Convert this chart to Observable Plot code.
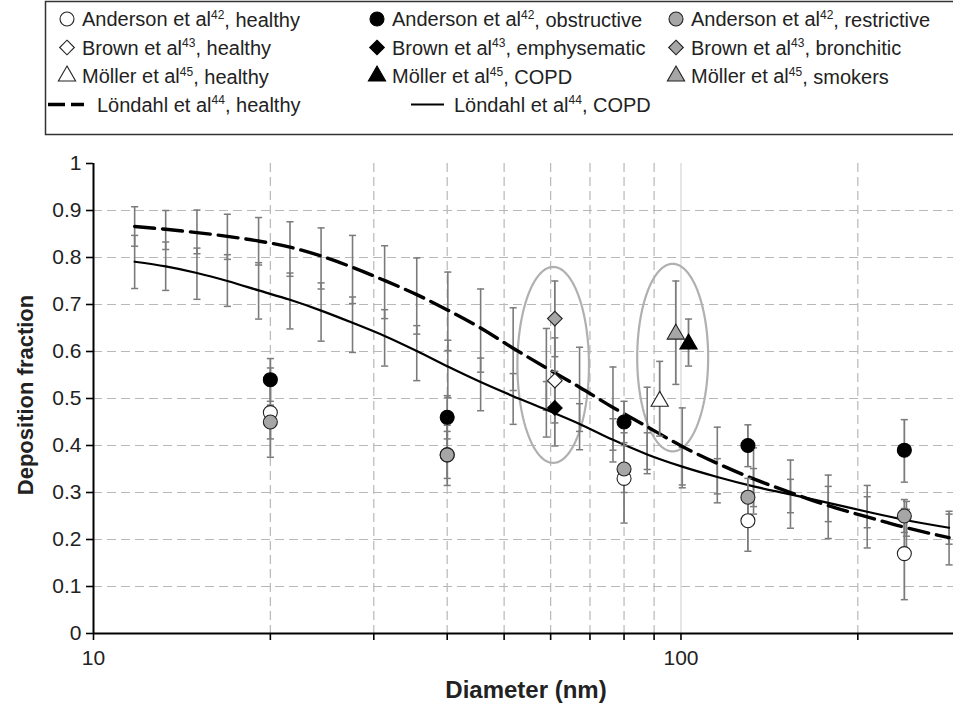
<!DOCTYPE html>
<html><head><meta charset="utf-8">
<script src="https://cdn.jsdelivr.net/npm/d3@7"></script>
<script src="https://cdn.jsdelivr.net/npm/@observablehq/plot@0.6"></script>
<style>
body{margin:0;background:#fff;overflow:hidden;font-family:"Liberation Sans",Arial,sans-serif;}
#wrap{position:relative;width:953px;height:706px;overflow:hidden;background:#fff;}
#legend{position:absolute;left:0;top:0;}
#chart{position:absolute;left:0;top:150px;}
</style></head><body>
<div id="wrap"><svg id="legend" width="953" height="150"></svg><div id="chart"></div></div>
<script>
// ---------- data ----------
const xTicks = [10,20,30,40,50,60,70,80,90,100,200];
const xTickLabels = [10,100];
const yTicks = [0,0.1,0.2,0.3,0.4,0.5,0.6,0.7,0.8,0.9,1];
const xGridDashed = [20,30,40,50,60,70,80,90,200];
const xGridSolid = [100];
const yGrid = [0.1,0.2,0.3,0.4,0.5,0.6,0.7,0.8,0.9];

// Löndahl et al (44)
const londahlD = [11.75,13.27,15.0,16.9,19.1,21.6,24.4,27.6,31.3,35.5,40.1,45.6,51.8,59.0,67.2,76.6,87.6,100.5,115.3,132.9,153.6,178.1,207.5,242,286];
const londahlHealthy   = [0.866,0.860,0.853,0.845,0.835,0.822,0.803,0.779,0.751,0.721,0.688,0.650,0.607,0.565,0.524,0.481,0.440,0.398,0.362,0.329,0.300,0.272,0.248,0.225,0.204];
const londahlHealthyLo = [0.824,0.817,0.808,0.796,0.784,0.760,0.733,0.702,0.670,0.637,0.602,0.556,0.517,0.475,0.430,0.390,0.349,0.310,0.297,0.270,0.257,0.202,0.182,0.170,0.146];
const londahlHealthyHi = [0.908,0.900,0.901,0.892,0.885,0.876,0.863,0.847,0.825,0.799,0.769,0.733,0.693,0.649,0.609,0.567,0.524,0.480,0.439,0.395,0.369,0.313,0.291,0.264,0.254];
const londahlCopd      = [0.791,0.781,0.767,0.750,0.730,0.710,0.687,0.661,0.633,0.601,0.568,0.535,0.505,0.476,0.446,0.412,0.381,0.355,0.333,0.313,0.296,0.278,0.259,0.241,0.225];
const londahlCopdLo    = [0.734,0.730,0.711,0.696,0.669,0.648,0.622,0.598,0.569,0.538,0.502,0.474,0.445,0.418,0.391,0.365,0.340,0.316,0.278,0.254,0.224,0.238,0.225,0.207,0.190];
const londahlCopdHi    = [0.847,0.833,0.820,0.806,0.789,0.767,0.746,0.716,0.689,0.655,0.624,0.586,0.553,0.536,0.489,0.457,0.427,0.396,0.372,0.351,0.328,0.337,0.315,0.281,0.260];

// Anderson et al (42)
const andersonD = [20,40,80,130,240];
const andersonHealthy     = [0.47,0.38,0.33,0.24,0.17];
const andersonHealthyLo   = [0.375,0.330,0.235,0.175,0.072];
const andersonHealthyHi   = [0.565,0.430,0.427,0.303,0.266];
const andersonObstr       = [0.54,0.46,0.45,0.40,0.39];
const andersonObstrLo     = [0.494,0.414,0.406,0.355,0.322];
const andersonObstrHi     = [0.585,0.506,0.494,0.444,0.455];
const andersonRestr       = [0.45,0.38,0.35,0.29,0.25];
const andersonRestrLo     = [0.414,0.315,0.300,0.250,0.215];
const andersonRestrHi     = [0.486,0.443,0.400,0.330,0.285];

// Brown et al (43)
const brownD = [61];
const brownHealthy = [0.538], brownHealthyLo = [0.448], brownHealthyHi = [0.629];
const brownEmph = [0.48], brownEmphLo = [0.399], brownEmphHi = [0.558];
const brownBronch = [0.67], brownBronchLo = [0.589], brownBronchHi = [0.75];

// Möller et al (45)
const mollerHealthyD = [92], mollerHealthy = [0.494], mollerHealthyLo = [0.42], mollerHealthyHi = [0.579];
const mollerSmokersD = [98], mollerSmokers = [0.637], mollerSmokersLo = [0.53], mollerSmokersHi = [0.75];
const mollerCopdD = [103], mollerCopd = [0.616], mollerCopdLo = [0.569], mollerCopdHi = [0.669];

// highlight ellipses
const ellipseCenterD = [60.6, 96.8];
const ellipseCenterY = [0.5715, 0.587];
const ellipseHalfWidthDecades = [0.0609, 0.0604];
const ellipseHalfHeight = [0.2085, 0.1996];

// legend
const legendRows = [
  [["Anderson et al","42",", healthy"],["Anderson et al","42",", obstructive"],["Anderson et al","42",", restrictive"]],
  [["Brown et al","43",", healthy"],["Brown et al","43",", emphysematic"],["Brown et al","43",", bronchitic"]],
  [["Möller et al","45",", healthy"],["Möller et al","45",", COPD"],["Möller et al","45",", smokers"]],
  [["Löndahl et al","44",", healthy"],["Löndahl et al","44",", COPD"]]
];
const legendSymbols = ["circle","diamond2","triangle"];
const groupFills = ["#ffffff","#000000","#a6a6a6"];

// ---------- build tables ----------
const GRAY = "#a6a6a6";
const symR = {circle: 7, diamond2: 6.6, triangle: 6.4};
const pointSeries = [
  {x:andersonD, y:andersonHealthy, lo:andersonHealthyLo, hi:andersonHealthyHi, symbol:"circle", fill:"#ffffff"},
  {x:andersonD, y:andersonObstr, lo:andersonObstrLo, hi:andersonObstrHi, symbol:"circle", fill:"#000000"},
  {x:andersonD, y:andersonRestr, lo:andersonRestrLo, hi:andersonRestrHi, symbol:"circle", fill:GRAY},
  {x:brownD, y:brownHealthy, lo:brownHealthyLo, hi:brownHealthyHi, symbol:"diamond2", fill:"#ffffff"},
  {x:brownD, y:brownEmph, lo:brownEmphLo, hi:brownEmphHi, symbol:"diamond2", fill:"#000000"},
  {x:brownD, y:brownBronch, lo:brownBronchLo, hi:brownBronchHi, symbol:"diamond2", fill:GRAY},
  {x:mollerHealthyD, y:mollerHealthy, lo:mollerHealthyLo, hi:mollerHealthyHi, symbol:"triangle", fill:"#ffffff"},
  {x:mollerSmokersD, y:mollerSmokers, lo:mollerSmokersLo, hi:mollerSmokersHi, symbol:"triangle", fill:GRAY},
  {x:mollerCopdD, y:mollerCopd, lo:mollerCopdLo, hi:mollerCopdHi, symbol:"triangle", fill:"#000000"}
];
const points = [], pointBars = [];
pointSeries.forEach(s => s.x.forEach((d,i) => {
  points.push({x:d, y:s.y[i], symbol:s.symbol, fill:s.fill, stroke: s.fill === "#000000" ? "#000" : "#222"});
  pointBars.push({x:d, lo:s.lo[i], hi:s.hi[i]});
}));
const lonBars = [];
londahlD.forEach((d,i) => {
  lonBars.push({x:d, lo:londahlHealthyLo[i], hi:londahlHealthyHi[i]});
  lonBars.push({x:d, lo:londahlCopdLo[i], hi:londahlCopdHi[i]});
});
const healthyLine = londahlD.map((d,i)=>({x:d, y:londahlHealthy[i]}));
const copdLine = londahlD.map((d,i)=>({x:d, y:londahlCopd[i]}));
const ellipsePts = [];
ellipseCenterD.forEach((c,k) => {
  for (let j = 0; j <= 120; j++) {
    const t = 2*Math.PI*j/120;
    ellipsePts.push({k, x: Math.pow(10, Math.log10(c) + ellipseHalfWidthDecades[k]*Math.cos(t)), y: ellipseCenterY[k] + ellipseHalfHeight[k]*Math.sin(t)});
  }
});
const caps = b => b.flatMap(r => [{x:r.x, y:r.lo}, {x:r.x, y:r.hi}]);
const capSymbol = {draw(ctx, size){ const w = Math.sqrt(size)/2; ctx.moveTo(-w,0); ctx.lineTo(w,0); }};

const BAR = "#7b7b7b";
const FONT = "'Liberation Sans', Arial, sans-serif";
const TXT = "#222";

const dotMarks = ["circle","diamond2","triangle"].map(sym =>
  Plot.dot(points.filter(p => p.symbol === sym), {x: "x", y: "y", symbol: sym, r: symR[sym],
    fill: "fill", stroke: "stroke", strokeWidth: 1.1}));

const chart = Plot.plot({
  width: 953, height: 556,
  marginTop: 13, marginBottom: 73, marginLeft: 93, marginRight: 0,
  style: {fontFamily: FONT, fontSize: "20px", color: TXT, background: "transparent"},
  x: {type: "log", domain: [10, 291]},
  y: {domain: [0, 1]},
  marks: [
    Plot.ruleY(yGrid, {stroke: "#b8b8b8", strokeWidth: 1.2, strokeDasharray: "9,5"}),
    Plot.ruleX(xGridDashed, {stroke: "#b8b8b8", strokeWidth: 1.2, strokeDasharray: "9,5"}),
    Plot.ruleX(xGridSolid, {stroke: "#d6d6d6", strokeWidth: 1.2}),
    Plot.line(ellipsePts, {x: "x", y: "y", z: "k", stroke: "#b0b0b0", strokeWidth: 2.2, curve: "linear"}),
    Plot.ruleX(lonBars, {x: "x", y1: "lo", y2: "hi", stroke: BAR, strokeWidth: 1.6}),
    Plot.dot(caps(lonBars), {x: "x", y: "y", symbol: capSymbol, r: 4, stroke: BAR, strokeWidth: 1.5, fill: "none"}),
    Plot.line(copdLine, {x: "x", y: "y", stroke: "#000", strokeWidth: 2.2, curve: "monotone-x"}),
    Plot.line(healthyLine, {x: "x", y: "y", stroke: "#000", strokeWidth: 3.4, strokeDasharray: "20,8", curve: "monotone-x"}),
    Plot.ruleX(pointBars, {x: "x", y1: "lo", y2: "hi", stroke: BAR, strokeWidth: 1.8}),
    Plot.dot(caps(pointBars), {x: "x", y: "y", symbol: capSymbol, r: 4, stroke: BAR, strokeWidth: 1.5, fill: "none"}),
    ...dotMarks,
    Plot.ruleX([10], {stroke: "#000", strokeWidth: 2}),
    Plot.ruleY([0], {stroke: "#000", strokeWidth: 2}),
    Plot.axisY({ticks: yTicks, tickSize: 7, tickPadding: 5, fontSize: 21, tickFormat: d => String(+d.toFixed(1)), label: null, stroke: "#000", strokeWidth: 1.6, fill: TXT}),
    Plot.axisX({ticks: xTicks, tickSize: 7, tickPadding: 10, fontSize: 21, tickFormat: d => xTickLabels.includes(d) ? String(d) : "", label: null, stroke: "#000", strokeWidth: 1.6, fill: TXT})
  ]
});
chart.style.overflow = "visible";
document.getElementById("chart").appendChild(chart);
const svg = d3.select(chart);
svg.selectAll('g[aria-label$="tick label"]').attr("font-size", 21).style("font-size", "21px");
svg.append("text").attr("x", 526).attr("y", 548).attr("text-anchor", "middle")
  .attr("font-family", FONT).attr("font-weight", "bold").attr("font-size", 24).attr("fill", TXT).text("Diameter (nm)");
svg.append("text").attr("transform", "translate(33,245) rotate(-90)").attr("text-anchor", "middle")
  .attr("font-family", FONT).attr("font-weight", "bold").attr("font-size", 22).attr("fill", TXT).text("Deposition fraction");

// ---------- legend ----------
const lg = d3.select("#legend");
lg.append("rect").attr("x", 45.5).attr("y", 1.5).attr("width", 940).attr("height", 133)
  .attr("fill", "#fff").attr("stroke", "#333").attr("stroke-width", 1.5);
const rowY = [19, 47.5, 76, 104.5];
const colMarkerX = [67, 377, 676];
const textGap = 15;
const symMap = {circle: d3.symbolCircle, diamond2: d3.symbolDiamond2, triangle: d3.symbolTriangle};
function addLabel(x, y, parts) {
  const t = lg.append("text").attr("x", x).attr("y", y).attr("dy", "0.35em")
    .attr("font-family", FONT).attr("font-size", 20).attr("fill", TXT);
  t.append("tspan").attr("fill", TXT).text(parts[0]);
  t.append("tspan").attr("fill", TXT).attr("font-size", 12).attr("dy", "-0.6em").text(parts[1]);
  t.append("tspan").attr("fill", TXT).attr("dy", "0.4em").text(parts[2]);
}
legendRows.slice(0,3).forEach((row, ri) => row.forEach((parts, ci) => {
  const s = legendSymbols[ri], r = symR[s];
  lg.append("path").attr("transform", `translate(${colMarkerX[ci]},${rowY[ri]})`)
    .attr("d", d3.symbol(symMap[s], Math.PI*r*r)())
    .attr("fill", groupFills[ci]).attr("stroke", ci === 1 ? "#000" : "#222").attr("stroke-width", 1.1);
  addLabel(colMarkerX[ci] + textGap, rowY[ri], parts);
}));
// line samples
lg.append("line").attr("x1", 48).attr("x2", 84).attr("y1", rowY[3]).attr("y2", rowY[3])
  .attr("stroke", "#000").attr("stroke-width", 3.4).attr("stroke-dasharray", "17,6");
addLabel(97, rowY[3], legendRows[3][0]);
lg.append("line").attr("x1", 411).attr("x2", 444).attr("y1", rowY[3]).attr("y2", rowY[3])
  .attr("stroke", "#000").attr("stroke-width", 2.2);
addLabel(454, rowY[3], legendRows[3][1]);
</script>
</body></html>
